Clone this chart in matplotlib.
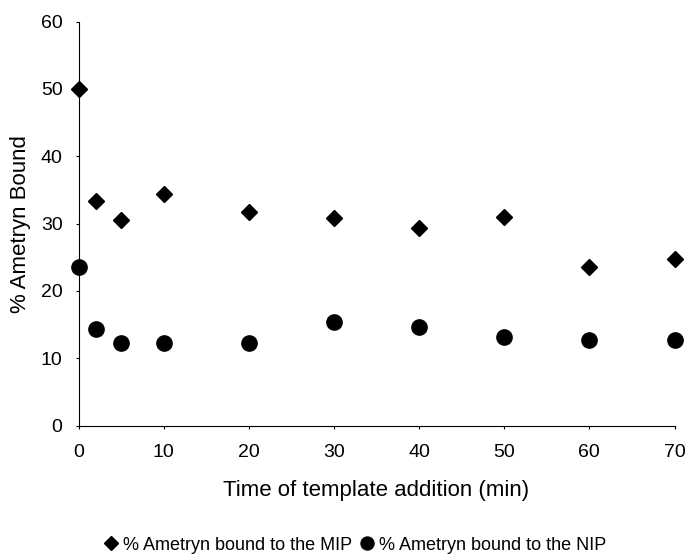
import numpy as np
import matplotlib.pyplot as plt

plt.rcParams['font.family'] = ['Liberation Sans', 'DejaVu Sans']

# data
time_min = [0, 2, 5, 10, 20, 30, 40, 50, 60, 70]
mip_bound = [50.0, 33.3, 30.6, 34.4, 31.7, 30.8, 29.4, 31.0, 23.5, 24.7]
nip_bound = [23.5, 14.4, 12.3, 12.3, 12.3, 15.4, 14.6, 13.2, 12.7, 12.7]

fig = plt.figure(figsize=(6.88, 5.55), dpi=100)
ax = fig.add_axes([78.5 / 688, 1 - 425.7 / 555, 596 / 688, 404.2 / 555])

ax.plot(time_min, mip_bound, 'D', color='black', markersize=8.3, clip_on=False,
        label='% Ametryn bound to the MIP')
ax.plot(time_min, nip_bound, 'o', color='black', markersize=11, clip_on=False,
        label='% Ametryn bound to the NIP')

ax.set_xlim(0, 70)
ax.set_ylim(0, 60)
ax.set_xticks(np.arange(0, 71, 10))
ax.set_yticks(np.arange(0, 61, 10))
ax.spines['top'].set_visible(False)
ax.spines['right'].set_visible(False)
ax.tick_params(labelsize=14, length=2.5, width=0.8, direction='out')
ax.tick_params(axis='x', pad=11)
ax.tick_params(axis='y', pad=9)

ax.set_xlabel('Time of template addition (min)', fontsize=16, labelpad=13)
ax.set_ylabel('% Ametryn Bound', fontsize=16, labelpad=7)

fig.legend(loc='center', bbox_to_anchor=(355 / 688, 1 - 545 / 555), ncol=2,
           frameon=False, fontsize=13, markerscale=0.85, handlelength=0.8,
           handletextpad=0.25, columnspacing=0.4, borderpad=0.2)

plt.savefig('out.png', dpi=100)
